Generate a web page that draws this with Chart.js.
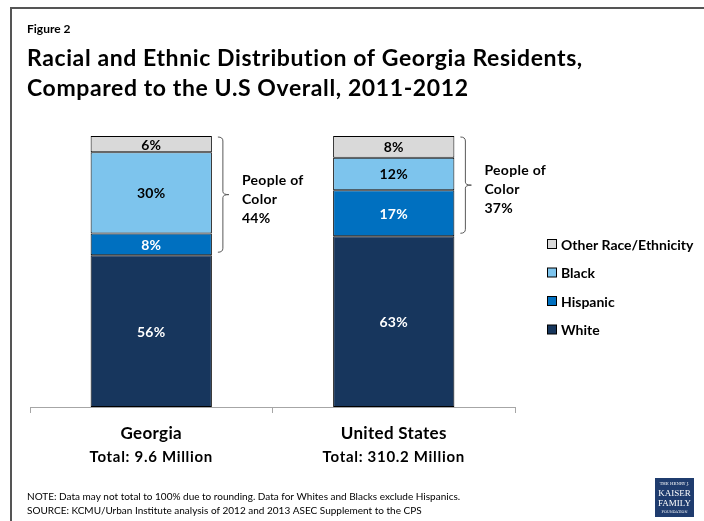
<!DOCTYPE html>
<html>
<head>
<meta charset="utf-8">
<script src="https://cdn.jsdelivr.net/npm/chart.js@4.4.1/dist/chart.umd.min.js"></script>
<style>
  html, body { margin: 0; padding: 0; background: #fff; }
  canvas { display: block; }
</style>
</head>
<body>
<canvas id="raceChart" width="704" height="521"></canvas>
<script>
// Share of residents by race/ethnicity, 2011-2012 (percent)
const regions = ['Georgia', 'United States'];
const regionTotals = ['Total: 9.6 Million', 'Total: 310.2 Million'];
const seriesNames = ['White', 'Hispanic', 'Black', 'Other Race/Ethnicity'];
const white = [56, 63];
const hispanic = [8, 17];
const black = [30, 12];
const otherRace = [6, 8];

const colors = ['#17365D', '#0070C0', '#7DC4ED', '#D9D9D9'];
const labelColors = ['#ffffff', '#ffffff', '#000000', '#000000'];
const FONT = 'Lato, "Open Sans", sans-serif';

function setFont(ctx, size, spacing, weight) {
  ctx.font = (weight || 'bold') + ' ' + size + 'px ' + FONT;
  ctx.letterSpacing = (spacing || 0) + 'px';
}

// Curly-ish brace to the right of a bar, with a small tick in the middle
function drawBrace(ctx, x, top, bottom) {
  const mid = (top + bottom) / 2;
  ctx.beginPath();
  ctx.moveTo(x - 5, top);
  ctx.quadraticCurveTo(x, top, x, top + 4);
  ctx.lineTo(x, mid - 3);
  ctx.quadraticCurveTo(x, mid, x + 6, mid);
  ctx.moveTo(x, mid + 3);
  ctx.quadraticCurveTo(x, mid, x + 6, mid);
  ctx.moveTo(x, mid + 3);
  ctx.lineTo(x, bottom - 4);
  ctx.quadraticCurveTo(x, bottom, x - 5, bottom);
  ctx.stroke();
  return mid;
}

const decorations = {
  id: 'decorations',
  beforeDraw(chart) {
    const ctx = chart.ctx;
    ctx.save();
    ctx.fillStyle = '#ffffff';
    ctx.fillRect(0, 0, chart.width, chart.height);
    ctx.restore();
  },
  afterDraw(chart) {
    const ctx = chart.ctx;
    const x = chart.scales.x;
    const y = chart.scales.y;
    ctx.save();

    // frame
    ctx.strokeStyle = '#555555';
    ctx.lineWidth = 2;
    ctx.beginPath();
    ctx.moveTo(11, chart.height);
    ctx.lineTo(11, 8);
    ctx.lineTo(chart.width, 8);
    ctx.stroke();

    // header
    ctx.fillStyle = '#000000';
    ctx.textAlign = 'left';
    ctx.textBaseline = 'alphabetic';
    setFont(ctx, 12);
    ctx.fillText('Figure 2', 27, 33);
    setFont(ctx, 23, 0.6);
    ctx.fillText('Racial and Ethnic Distribution of Georgia Residents,', 27, 66);
    ctx.fillText('Compared to the U.S Overall, 2011-2012', 27, 96);

    // value labels inside each segment
    ctx.textAlign = 'center';
    ctx.textBaseline = 'middle';
    setFont(ctx, 14, 0.3);
    chart.data.datasets.forEach((ds, i) => {
      chart.getDatasetMeta(i).data.forEach((bar, j) => {
        ctx.fillStyle = labelColors[i];
        ctx.fillText(ds.data[j] + '%', bar.x, (bar.y + bar.base) / 2 + 1);
      });
    });

    // category labels under the axis
    regions.forEach((name, j) => {
      const cx = x.getPixelForValue(j);
      ctx.fillStyle = '#000000';
      ctx.textBaseline = 'alphabetic';
      setFont(ctx, 17, 0.3);
      ctx.fillText(name, cx, 439);
      setFont(ctx, 15, 0.7);
      ctx.fillText(regionTotals[j], cx, 462);
    });

    // "People of Color" braces
    const whiteMeta = chart.getDatasetMeta(0);
    regions.forEach((name, j) => {
      const bar = whiteMeta.data[j];
      const people = hispanic[j] + black[j] + otherRace[j];
      const bx = bar.x + bar.width / 2 + 11;
      const top = y.getPixelForValue(white[j] + people) + 1;
      const bottom = y.getPixelForValue(white[j]) - 3;
      ctx.strokeStyle = '#595959';
      ctx.lineWidth = 1;
      const mid = drawBrace(ctx, bx, top, bottom);
      ctx.fillStyle = '#000000';
      ctx.textAlign = 'left';
      ctx.textBaseline = 'middle';
      setFont(ctx, 14, 0.3);
      ['People of', 'Color', people + '%'].forEach((t, k) => {
        ctx.fillText(t, bx + 19, mid - 14.5 + k * 19);
      });
    });

    // legend, top series first
    ctx.textAlign = 'left';
    ctx.textBaseline = 'middle';
    setFont(ctx, 14);
    const items = chart.data.datasets.slice().reverse();
    items.forEach((ds, k) => {
      const ly = 244 + k * 28.5;
      ctx.fillStyle = ds.backgroundColor;
      ctx.fillRect(547.5, ly - 4.5, 9, 9);
      ctx.strokeStyle = '#000000';
      ctx.lineWidth = 1;
      ctx.strokeRect(547.5, ly - 4.5, 9, 9);
      ctx.fillStyle = '#000000';
      ctx.fillText(ds.label, 561, ly + 1);
    });

    // notes
    setFont(ctx, 10, 0, 'normal');
    ctx.textBaseline = 'alphabetic';
    ctx.fillText('NOTE: Data may not total to 100% due to rounding. Data for Whites and Blacks exclude Hispanics.', 27, 500);
    ctx.fillText('SOURCE: KCMU/Urban Institute analysis of 2012 and 2013 ASEC Supplement to the CPS', 27, 514);

    // foundation mark
    ctx.letterSpacing = '0px';
    ctx.fillStyle = '#1F3C6E';
    ctx.fillRect(655, 478, 39, 39);
    ctx.fillStyle = '#ffffff';
    ctx.textAlign = 'center';
    ctx.font = '4px "DejaVu Serif", serif';
    ctx.fillText('THE HENRY J.', 674.5, 485);
    ctx.font = '9px "Liberation Serif", serif';
    ctx.fillText('KAISER', 674.5, 496);
    ctx.fillText('FAMILY', 674.5, 506);
    ctx.font = '3.5px "DejaVu Serif", serif';
    ctx.fillText('FOUNDATION', 674.5, 513);

    ctx.restore();
  }
};

new Chart(document.getElementById('raceChart'), {
  type: 'bar',
  data: {
    labels: regions,
    datasets: [
      { label: seriesNames[0], data: white },
      { label: seriesNames[1], data: hispanic },
      { label: seriesNames[2], data: black },
      { label: seriesNames[3], data: otherRace }
    ].map((ds, i) => Object.assign(ds, {
      backgroundColor: colors[i],
      borderColor: '#000000',
      borderWidth: 1,
      borderSkipped: false,
      barPercentage: 0.5,
      categoryPercentage: 1
    }))
  },
  options: {
    responsive: false,
    animation: false,
    devicePixelRatio: 1,
    layout: { padding: { top: 136, left: 30, right: 189, bottom: 114 } },
    plugins: {
      legend: { display: false },
      title: { display: false },
      tooltip: { enabled: false }
    },
    scales: {
      x: {
        stacked: true,
        ticks: { display: false },
        grid: {
          offset: true,
          drawOnChartArea: false,
          drawTicks: true,
          tickLength: 6,
          color: '#A6A6A6'
        },
        border: { display: true, color: '#A6A6A6', width: 1 },
        afterFit(scale) { scale.height = 0; }
      },
      y: {
        stacked: true,
        display: false,
        min: 0,
        max: 100
      }
    }
  },
  plugins: [decorations]
});
</script>
</body>
</html>
